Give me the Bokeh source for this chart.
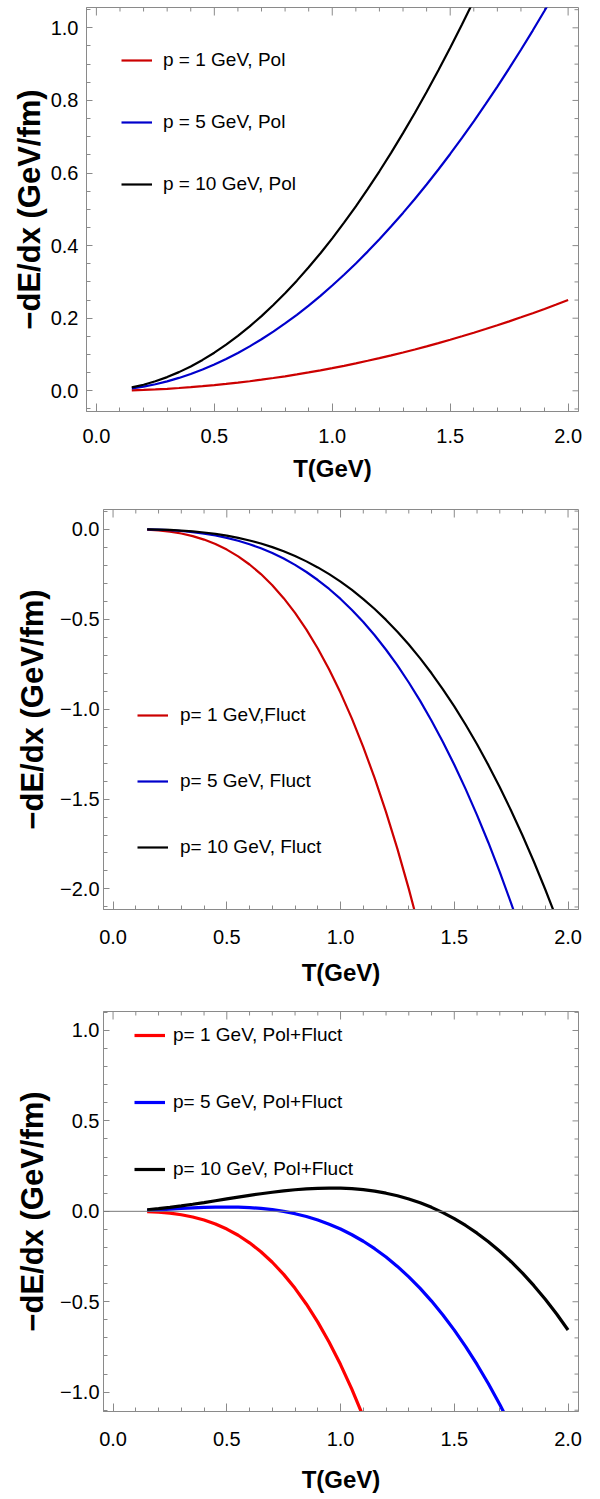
import numpy as np
from bokeh.plotting import figure
from bokeh.models import Range1d, SingleIntervalTicker, CustomJSTickFormatter, Legend, LegendItem, Span
from bokeh.embed import file_html
from bokeh.resources import INLINE

# ---------------- data ----------------
T = [0.15, 0.20, 0.25, 0.30, 0.35, 0.40, 0.45, 0.50, 0.55, 0.60,
     0.65, 0.70, 0.75, 0.80, 0.85, 0.90, 0.95, 1.00, 1.05, 1.10,
     1.15, 1.20, 1.25, 1.30, 1.35, 1.40, 1.45, 1.50, 1.55, 1.60,
     1.65, 1.70, 1.75, 1.80, 1.85, 1.90, 1.95, 2.00]

# panel 1: polarization loss
pol_p1 = [0.0014, 0.0025, 0.0039, 0.0056, 0.0077, 0.0100, 0.0127, 0.0156, 0.0189, 0.0225,
          0.0264, 0.0306, 0.0352, 0.0400, 0.0452, 0.0506, 0.0564, 0.0625, 0.0689, 0.0756,
          0.0827, 0.0900, 0.0977, 0.1056, 0.1139, 0.1225, 0.1314, 0.1406, 0.1502, 0.1600,
          0.1702, 0.1806, 0.1914, 0.2025, 0.2139, 0.2256, 0.2377, 0.2500]
pol_p5 = [0.0065, 0.0116, 0.0181, 0.0261, 0.0355, 0.0464, 0.0587, 0.0725, 0.0877, 0.1044,
          0.1225, 0.1421, 0.1631, 0.1856, 0.2095, 0.2349, 0.2617, 0.2900, 0.3197, 0.3509,
          0.3835, 0.4176, 0.4531, 0.4901, 0.5285, 0.5684, 0.6097, 0.6525, 0.6967, 0.7424,
          0.7895, 0.8381, 0.8881, 0.9396, 0.9925, 1.0469, 1.1027, 1.1600]
pol_p10 = [0.0095, 0.0168, 0.0263, 0.0378, 0.0515, 0.0672, 0.0851, 0.1050, 0.1271, 0.1512,
           0.1775, 0.2058, 0.2363, 0.2688, 0.3035, 0.3402, 0.3791, 0.4200, 0.4631, 0.5082,
           0.5555, 0.6048, 0.6563, 0.7098, 0.7655, 0.8232, 0.8831, 0.9450, 1.0091, 1.0752,
           1.1435, 1.2138, 1.2863, 1.3608, 1.4375, 1.5162, 1.5971, 1.6800]

# panel 2: fluctuation contribution
fluct_p1 = [-0.0031, -0.0073, -0.0142, -0.0246, -0.0390, -0.0582, -0.0829, -0.1138, -0.1514, -0.1966,
            -0.2499, -0.3121, -0.3839, -0.4659, -0.5589, -0.6634, -0.7802, -0.9100, -1.0534, -1.2112,
            -1.3840, -1.5725, -1.7773, -1.9993, -2.2389, -2.4970, -2.7742, -3.0713, -3.3887, -3.7274,
            -4.0878, -4.4708, -4.8770, -5.3071, -5.7618, -6.2417, -6.7475, -7.2800]
fluct_p5 = [-0.0013, -0.0031, -0.0061, -0.0105, -0.0166, -0.0248, -0.0354, -0.0485, -0.0646, -0.0838,
            -0.1066, -0.1331, -0.1637, -0.1987, -0.2383, -0.2829, -0.3327, -0.3880, -0.4492, -0.5164,
            -0.5901, -0.6705, -0.7578, -0.8524, -0.9546, -1.0647, -1.1829, -1.3095, -1.4449, -1.5892,
            -1.7429, -1.9062, -2.0794, -2.2628, -2.4567, -2.6613, -2.8770, -3.1040]
fluct_p10 = [-0.0010, -0.0023, -0.0046, -0.0079, -0.0125, -0.0187, -0.0266, -0.0365, -0.0486, -0.0631,
             -0.0802, -0.1002, -0.1232, -0.1495, -0.1793, -0.2129, -0.2504, -0.2920, -0.3380, -0.3887,
             -0.4441, -0.5046, -0.5703, -0.6415, -0.7184, -0.8012, -0.8902, -0.9855, -1.0874, -1.1960,
             -1.3117, -1.4346, -1.5649, -1.7029, -1.8488, -2.0028, -2.1651, -2.3360]

# panel 3: total (Pol+Fluct)
tot_p1 = [-0.0017, -0.0048, -0.0103, -0.0190, -0.0313, -0.0482, -0.0702, -0.0982, -0.1325, -0.1741,
          -0.2235, -0.2815, -0.3487, -0.4259, -0.5137, -0.6128, -0.7238, -0.8475, -0.9845, -1.1356,
          -1.3013, -1.4825, -1.6796, -1.8937, -2.1250, -2.3745, -2.6428, -2.9307, -3.2385, -3.5674,
          -3.9176, -4.2902, -4.6856, -5.1046, -5.5479, -6.0161, -6.5098, -7.0300]
tot_p5 = [0.0052, 0.0085, 0.0120, 0.0156, 0.0189, 0.0216, 0.0233, 0.0240, 0.0231, 0.0206,
          0.0159, 0.0090, -0.0006, -0.0131, -0.0288, -0.0480, -0.0710, -0.0980, -0.1295, -0.1655,
          -0.2066, -0.2529, -0.3047, -0.3623, -0.4261, -0.4963, -0.5732, -0.6570, -0.7482, -0.8468,
          -0.9534, -1.0681, -1.1913, -1.3232, -1.4642, -1.6144, -1.7743, -1.9440]
tot_p10 = [0.0085, 0.0145, 0.0217, 0.0299, 0.0390, 0.0485, 0.0585, 0.0685, 0.0785, 0.0881,
           0.0973, 0.1056, 0.1131, 0.1193, 0.1242, 0.1273, 0.1287, 0.1280, 0.1251, 0.1195,
           0.1114, 0.1002, 0.0860, 0.0683, 0.0471, 0.0220, -0.0071, -0.0405, -0.0783, -0.1208,
           -0.1682, -0.2208, -0.2786, -0.3421, -0.4113, -0.4866, -0.5680, -0.6560]

labels1 = ["p = 1 GeV, Pol", "p = 5 GeV, Pol", "p = 10 GeV, Pol"]
labels2 = ["p= 1 GeV,Fluct", "p= 5 GeV, Fluct", "p= 10 GeV, Fluct"]
labels3 = ["p= 1 GeV, Pol+Fluct", "p= 5 GeV, Pol+Fluct", "p= 10 GeV, Pol+Fluct"]

x_label = "T(GeV)"
y_label = "\u2212dE/dx (GeV/fm)"

FONT = "Liberation Sans"
FRAME = "#8a8a8a"
FMT_CODE = "return (tick < -1e-9 ? '\u2212' : '') + Math.abs(tick).toFixed(1);"


def tick_values(lo, hi, step):
    k0 = int(np.ceil(lo / step - 1e-9))
    k1 = int(np.floor(hi / step + 1e-9))
    return [round(k * step, 6) for k in range(k0, k1 + 1)]


def style_axis(ax, major_in):
    ax.axis_line_color = FRAME
    ax.major_tick_line_color = FRAME
    ax.minor_tick_line_color = FRAME
    ax.major_tick_out = 0
    ax.minor_tick_out = 0
    ax.major_tick_in = major_in
    ax.minor_tick_in = 4
    ax.major_label_text_font = FONT
    ax.major_label_text_font_size = "20px"
    ax.major_label_text_color = "black"
    ax.formatter = CustomJSTickFormatter(code=FMT_CODE)
    ax.axis_label_text_font = FONT
    ax.axis_label_text_font_style = "bold"
    ax.axis_label_text_color = "black"


def inner_ticks(p, xr, yr, fw, fh, y_major, y_minor):
    # ticks on the top and right edges of the frame (pointing inwards)
    dy = (yr[1] - yr[0]) / fh
    dx = (xr[1] - xr[0]) / fw
    xs_major = tick_values(xr[0], xr[1], 0.5)
    xs_minor = [v for v in tick_values(xr[0], xr[1], 0.1)
                if all(abs(v - m) > 1e-6 for m in xs_major)]
    ys_major = tick_values(yr[0], yr[1], y_major)
    ys_minor = [v for v in tick_values(yr[0], yr[1], y_minor)
                if all(abs(v - m) > 1e-6 for m in ys_major)]
    for xs, ln in ((xs_major, 8), (xs_minor, 4)):
        p.segment(x0=xs, y0=[yr[1]] * len(xs), x1=xs, y1=[yr[1] - ln * dy] * len(xs),
                  line_color=FRAME, line_width=1)
    for ys, ln in ((ys_major, 6), (ys_minor, 4)):
        p.segment(x0=[xr[1]] * len(ys), y0=ys, x1=[xr[1] - ln * dx] * len(ys), y1=ys,
                  line_color=FRAME, line_width=1)


def make_panel(xr, yr, y_int, frame_w, frame_h, border_left, border_top, border_bottom,
               series, colors, labels, lw, leg_loc, leg_spacing, leg_standoff,
               tick_std_x, lab_std_x, tick_std_y, lab_std_y, zero_line=False):
    p = figure(frame_width=frame_w, frame_height=frame_h,
               x_range=Range1d(*xr), y_range=Range1d(*yr),
               output_backend="svg", toolbar_location=None,
               min_border_left=border_left, min_border_right=8,
               min_border_top=border_top, min_border_bottom=border_bottom)
    p.grid.visible = False
    p.outline_line_color = FRAME
    p.background_fill_color = "white"

    xax = p.xaxis[0]
    yax = p.yaxis[0]
    xax.ticker = SingleIntervalTicker(interval=0.5, num_minor_ticks=5)
    y_minor = 0.1 if y_int == 0.5 else 0.05
    yax.ticker = SingleIntervalTicker(interval=y_int, num_minor_ticks=5 if y_int == 0.5 else 4)
    style_axis(xax, 8)
    style_axis(yax, 6)
    xax.major_label_standoff = tick_std_x
    yax.major_label_standoff = tick_std_y
    xax.axis_label = x_label
    yax.axis_label = y_label
    xax.axis_label_text_font_size = "24px"
    yax.axis_label_text_font_size = "31px"
    xax.axis_label_standoff = lab_std_x
    yax.axis_label_standoff = lab_std_y

    inner_ticks(p, xr, yr, frame_w, frame_h, y_int, y_minor)

    if zero_line:
        p.add_layout(Span(location=0, dimension="width", line_color="#777777", line_width=1))

    items = []
    for ys, c, lab in zip(series, colors, labels):
        r = p.line(T, ys, line_color=c, line_width=lw)
        items.append(LegendItem(label=lab, renderers=[r]))
    leg = Legend(items=items, location=leg_loc, orientation="vertical",
                 glyph_width=31, glyph_height=24, label_height=24, label_width=20,
                 label_standoff=leg_standoff, spacing=leg_spacing,
                 padding=0, margin=0, border_line_alpha=0, background_fill_alpha=0,
                 label_text_font=FONT, label_text_font_size="19px", label_text_color="black")
    p.add_layout(leg)
    return p


p1 = make_panel((-0.042, 2.044), (-0.057, 1.056), 0.2, 492, 404, 86, 7, 88,
                [pol_p1, pol_p5, pol_p10], ["#cc0000", "#0000cc", "#000000"], labels1, 2.2,
                (35, 215), 38, 11, 17, 9, 8, 1)
p2 = make_panel((-0.042, 2.046), (-2.114, 0.109), 0.5, 475, 400, 103, 10, 92,
                [fluct_p1, fluct_p5, fluct_p10], ["#cc0000", "#0000cc", "#000000"], labels2, 2.2,
                (34, 50), 42, 12, 20, 12, 4, 7)
p3 = make_panel((-0.042, 2.046), (-1.107, 1.105), 0.5, 475, 400, 103, 10, 86,
                [tot_p1, tot_p5, tot_p10], ["#ff0000", "#0000ff", "#000000"], labels3, 3.2,
                (31, 230), 43, 8, 20, 17, 4, 7, zero_line=True)

# three separate roots stacked vertically (keeps each frame at its own left offset)
open("out.html", "w").write(file_html([p1, p2, p3], INLINE))
